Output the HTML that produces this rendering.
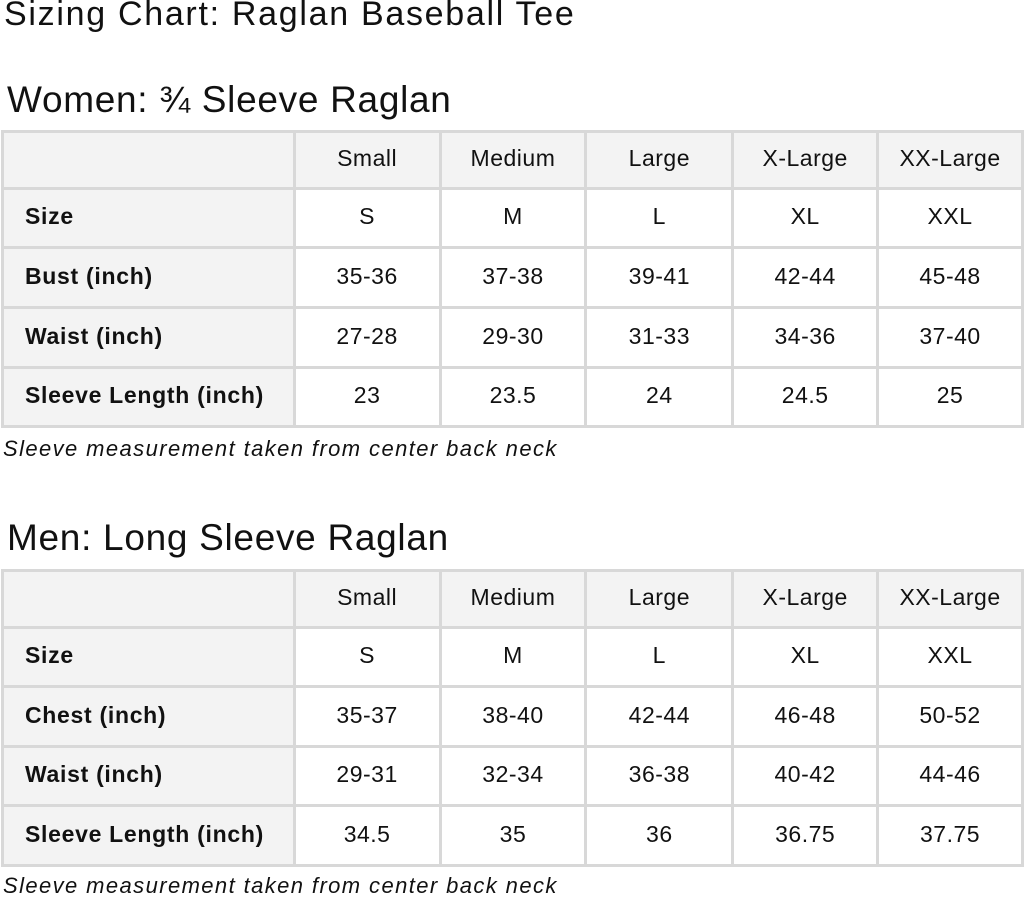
<!DOCTYPE html>
<html><head><style>
body{margin:0;width:1024px;height:898px;background:#fff;font-family:"Liberation Sans",sans-serif;color:#111;position:relative;overflow:hidden}
.t{position:absolute;white-space:nowrap}
table{position:absolute;left:1px;border-collapse:collapse;table-layout:fixed}
td{border:3px solid #d8d8d8;text-align:center;font-size:23px;padding:0 0 3px 0;letter-spacing:0.5px}
td:first-child{text-align:left;padding-left:21px;font-weight:bold;background:#f3f3f3;letter-spacing:0.7px}
tr:first-child td{background:#f3f3f3}
.n{font-style:italic;font-size:22px;letter-spacing:1.4px}
</style></head><body>
<div class="t" style="left:4px;top:-5px;font-size:34px;letter-spacing:1.7px">Sizing Chart: Raglan Baseball Tee</div>
<div class="t" style="left:7px;top:79px;font-size:37px;letter-spacing:0.7px">Women: ¾ Sleeve Raglan</div>
<table style="top:130px">
<colgroup><col style="width:292px"><col style="width:146px"><col style="width:146px"><col style="width:147px"><col style="width:145px"><col style="width:145px"></colgroup>
<tr style="height:57px"><td></td><td>Small</td><td>Medium</td><td>Large</td><td>X-Large</td><td>XX-Large</td></tr>
<tr style="height:59px"><td>Size</td><td>S</td><td>M</td><td>L</td><td>XL</td><td>XXL</td></tr>
<tr style="height:60px"><td>Bust (inch)</td><td>35-36</td><td>37-38</td><td>39-41</td><td>42-44</td><td>45-48</td></tr>
<tr style="height:60px"><td>Waist (inch)</td><td>27-28</td><td>29-30</td><td>31-33</td><td>34-36</td><td>37-40</td></tr>
<tr style="height:59px"><td>Sleeve Length (inch)</td><td>23</td><td>23.5</td><td>24</td><td>24.5</td><td>25</td></tr>
</table>
<div class="t n" style="left:3px;top:436px">Sleeve measurement taken from center back neck</div>
<div class="t" style="left:7px;top:517px;font-size:37px;letter-spacing:0.7px">Men: Long Sleeve Raglan</div>
<table style="top:569px">
<colgroup><col style="width:292px"><col style="width:146px"><col style="width:146px"><col style="width:147px"><col style="width:145px"><col style="width:145px"></colgroup>
<tr style="height:57px"><td></td><td>Small</td><td>Medium</td><td>Large</td><td>X-Large</td><td>XX-Large</td></tr>
<tr style="height:59px"><td>Size</td><td>S</td><td>M</td><td>L</td><td>XL</td><td>XXL</td></tr>
<tr style="height:60px"><td>Chest (inch)</td><td>35-37</td><td>38-40</td><td>42-44</td><td>46-48</td><td>50-52</td></tr>
<tr style="height:59px"><td>Waist (inch)</td><td>29-31</td><td>32-34</td><td>36-38</td><td>40-42</td><td>44-46</td></tr>
<tr style="height:60px"><td>Sleeve Length (inch)</td><td>34.5</td><td>35</td><td>36</td><td>36.75</td><td>37.75</td></tr>
</table>
<div class="t n" style="left:3px;top:873px">Sleeve measurement taken from center back neck</div>
</body></html>
